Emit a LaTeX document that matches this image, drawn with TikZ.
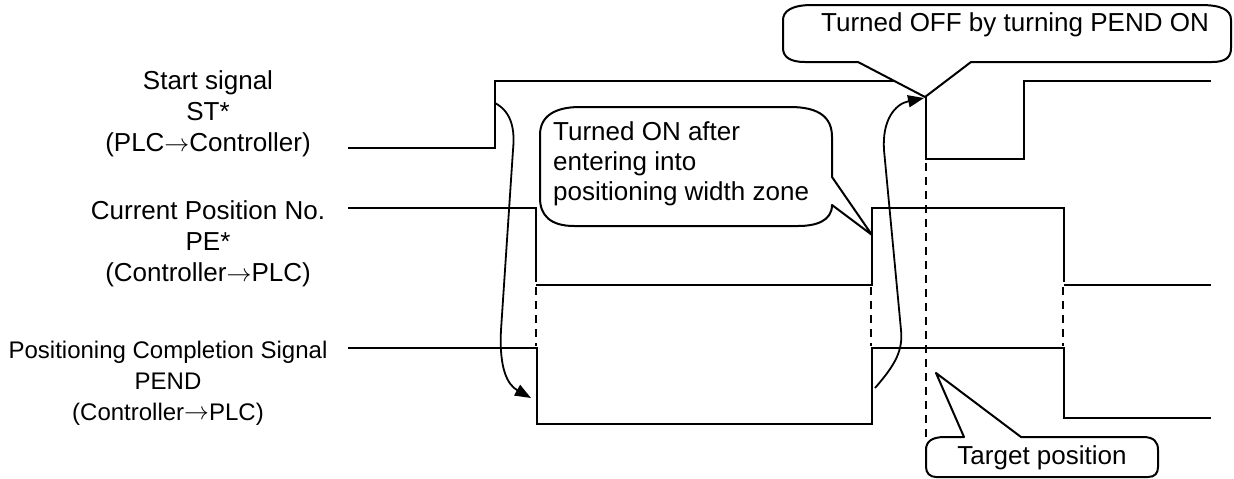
\documentclass[tikz,border=0pt]{standalone}
\usepackage{fontspec}
\setmainfont{Liberation Sans}
\usetikzlibrary{arrows.meta}
\newcommand{\sigto}{\raisebox{0.5pt}{$\rightarrow$}}
\begin{document}
\begin{tikzpicture}[x=1pt,y=-1pt,
  wave/.style={line width=2pt,line join=miter},
  dashline/.style={line width=2pt,dash pattern=on 8pt off 6pt},
  callout/.style={line width=2pt,fill=white,line join=round},
  lbl/.style={inner sep=0pt,align=center,font=\fontsize{26}{31}\selectfont},
  lblsmall/.style={inner sep=0pt,align=center,font=\fontsize{24}{31}\selectfont},
  ctext/.style={inner sep=0pt,font=\fontsize{26}{30}\selectfont},
  flowarrow/.style={line width=1.8pt,-{Triangle[length=16pt,width=12pt]}}]
\useasboundingbox (0,0) rectangle (1234,479);

% signal labels
\node[lbl] (lst) at (208,114) {Start signal\\ST*\\(PLC\sigto Controller)};
\node[lbl] (lpe) at (208,244) {Current Position No.\\PE*\\(Controller\sigto PLC)};
\node[lblsmall] (lpend) at (168,383) {Positioning Completion Signal\\PEND\\(Controller\sigto PLC)};

% waveforms
\draw[wave] (348,148) -- (495,148) -- (495,81) -- (926,81) -- (926,159) -- (1024,159) -- (1024,81) -- (1211,81);
\draw[wave] (348,208) -- (536,208) -- (536,282);
\draw[wave] (536,285) -- (872,285) -- (872,208) -- (1064,208) -- (1064,282);
\draw[wave] (1064,285) -- (1211,285);
\draw[wave] (348,348) -- (537,348) -- (537,424) -- (872,424) -- (872,348) -- (1064,348) -- (1064,418) -- (1211,418);

% dashed guide lines
\draw[dashline] (536,287) -- (536,346);
\draw[dashline] (871,287) -- (871,346);
\draw[dashline] (1063,287) -- (1063,346);
\draw[dashline] (926,163) -- (926,437);

% flow arrows
\coordinate (a1s) at (495,103);
\coordinate (a1e) at (531,398);
\coordinate (a2s) at (875,388);
\coordinate (a2e) at (924,98);
\draw[flowarrow] (a1s) .. controls (512,112) and (515,130) .. (513,150) -- (501,330) .. controls (499,370) and (508,385) .. (a1e);
\draw[flowarrow] (a2s) .. controls (896,364) and (903,350) .. (901,330) -- (884,150) .. controls (882,120) and (895,104) .. (a2e);

% callouts
\draw[callout] (858,62) -- (925,97) -- (971,62) -- (1212,62) .. controls (1226,62) and (1231,57) .. (1231,48) -- (1231,20) .. controls (1231,9) and (1220,5) .. (1200,5) -- (812,5) .. controls (792,5) and (783,11) .. (783,20) -- (783,48) .. controls (783,57) and (790,62) .. (805,62) -- cycle;
\node[ctext] (offtext) at (1015,25) {Turned OFF by turning PEND ON};

\draw[callout] (832,177) -- (872,235) -- (832,205) .. controls (832,221) and (816,226) .. (798,226) -- (574,226) .. controls (550,226) and (540,215) .. (540,198) -- (540,135) .. controls (540,116) and (555,107) .. (580,107) -- (790,107) .. controls (820,107) and (832,118) .. (832,137) -- cycle;
\node[ctext,anchor=west,align=left] (ontext) at (553,164) {Turned ON after\\entering into\\positioning width zone};

\draw[callout] (964,437) -- (936,373) -- (1021,437) -- (1143,437) .. controls (1154,437) and (1158,442) .. (1158,450) -- (1158,467) .. controls (1158,473) and (1155,477) .. (1148,477) -- (936,477) .. controls (930,477) and (926,473) .. (926,467) -- (926,450) .. controls (926,442) and (931,437) .. (945,437) -- cycle;
\node[ctext] (targettext) at (1042,458) {Target position};
\end{tikzpicture}
\end{document}
